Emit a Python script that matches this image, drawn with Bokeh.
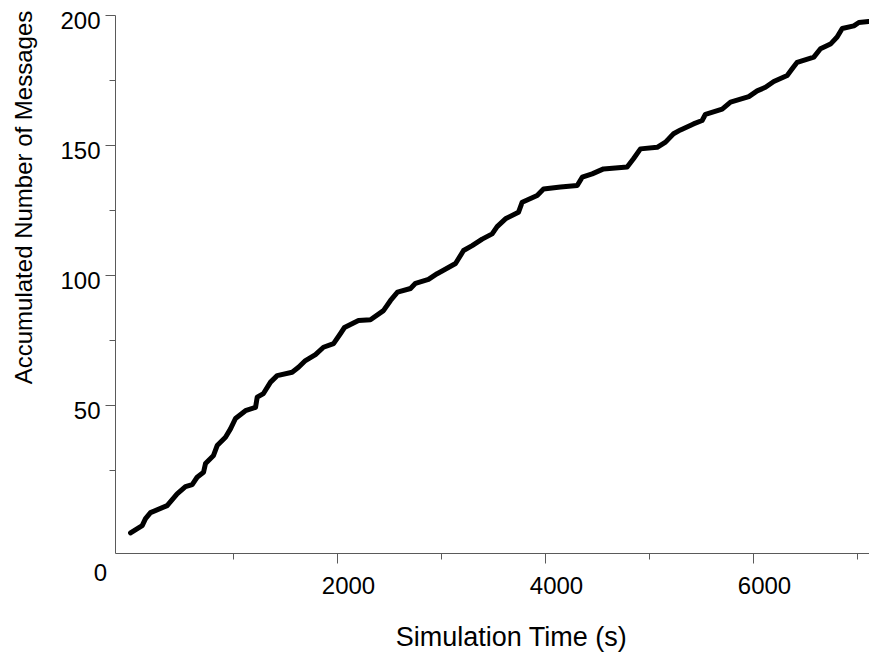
import math
from bokeh.plotting import figure
from bokeh.models import Range1d
from bokeh.core.properties import value
from bokeh.embed import file_html
from bokeh.resources import INLINE

# ---- data ----
time_s = [10, 122, 154, 202, 362, 458, 538, 603, 650, 712, 731, 808, 843, 923,
          971, 1019, 1115, 1212, 1228, 1288, 1356, 1420, 1564, 1625, 1692, 1788,
          1865, 1962, 2029, 2067, 2202, 2317, 2442, 2510, 2577, 2702, 2750, 2875,
          2958, 3019, 3135, 3212, 3295, 3391, 3487, 3535, 3615, 3740, 3776, 3920,
          3981, 4144, 4305, 4353, 4449, 4558, 4785, 4846, 4913, 5074, 5154, 5231,
          5298, 5423, 5506, 5538, 5699, 5779, 5955, 6035, 6115, 6195, 6324, 6372,
          6420, 6580, 6644, 6740, 6804, 6853, 6965, 7013, 7106]
messages = [1, 3.8, 6.5, 8.8, 11.5, 16, 18.8, 19.6, 22.4, 24.3, 27.7, 30.8, 34.6,
            37.8, 41, 45, 48, 49.3, 53.2, 54.6, 59, 61.5, 62.8, 64.7, 67.3, 69.6,
            72.4, 73.8, 77.7, 80, 82.7, 83, 86.5, 90.4, 93.6, 95, 97, 98.5, 100.7,
            102, 104.6, 109.6, 111.5, 114, 116, 118.8, 121.8, 124.3, 128.2, 130.8,
            133.3, 134, 134.6, 137.8, 139.1, 141, 141.7, 144.9, 148.7, 149.3, 151.3,
            154.5, 156, 158.3, 159.6, 162, 164, 166.7, 168.8, 171, 172.4, 174.6,
            176.9, 179.5, 182, 184, 187.2, 189, 191.7, 195, 196, 197.3, 197.7]

x_major = [2000, 4000, 6000]
x_minor = [1000, 3000, 5000, 7000]
y_major = [50, 100, 150, 200]
y_minor = [25, 75, 125, 175]
x_tick_labels = ["2000", "4000", "6000"]
y_tick_labels = ["50", "100", "150", "200"]
origin_label = "0"
x_title = "Simulation Time (s)"
y_title = "Accumulated Number of Messages"

# ---- layout (pixel geometry of the reference) ----
W, H = 869, 656
X_ORIGIN_PX, X_PX_PER_UNIT = 129.0, 0.104     # x=0 at px 129, 104 px per 1000 s
Y_ORIGIN_PX, Y_PX_PER_UNIT = 535.0, 2.6       # y=0 at px 535 (from top), 2.6 px per message


def dx(px):   # horizontal pixel distance -> data units
    return px / X_PX_PER_UNIT


def dy(px):   # vertical pixel distance -> data units
    return px / Y_PX_PER_UNIT


def xd(px):   # canvas x pixel -> data
    return (px - X_ORIGIN_PX) / X_PX_PER_UNIT


def yd(py):   # canvas y pixel (from top) -> data
    return (Y_ORIGIN_PX - py) / Y_PX_PER_UNIT


AX_X = xd(115)      # left axis position
AX_Y = yd(553)      # bottom axis position
AX_TOP = 200
AX_RIGHT = xd(W)

TICK_FONT = "Liberation Sans"
TITLE_FONT = "Liberation Sans"
AXIS_COLOR = "#5a5a5a"

p = figure(width=W, height=H, x_range=Range1d(xd(0), xd(W)), y_range=Range1d(yd(H), yd(0)),
           output_backend="svg", toolbar_location=None, min_border=0)
p.axis.visible = False
p.xgrid.grid_line_color = None
p.ygrid.grid_line_color = None
p.outline_line_color = None

# axis lines
p.segment(x0=[AX_X, AX_X], y0=[AX_Y, AX_Y], x1=[AX_X, AX_RIGHT], y1=[AX_TOP, AX_Y],
          line_color=AXIS_COLOR, line_width=1)
# y ticks (outward)
p.segment(x0=[AX_X] * len(y_major), y0=y_major, x1=[AX_X - dx(10)] * len(y_major), y1=y_major,
          line_color=AXIS_COLOR, line_width=1)
p.segment(x0=[AX_X] * len(y_minor), y0=y_minor, x1=[AX_X - dx(6)] * len(y_minor), y1=y_minor,
          line_color=AXIS_COLOR, line_width=1)
# x ticks (outward)
p.segment(x0=x_major, y0=[AX_Y] * len(x_major), x1=x_major, y1=[AX_Y - dy(10)] * len(x_major),
          line_color=AXIS_COLOR, line_width=1)
p.segment(x0=x_minor, y0=[AX_Y] * len(x_minor), x1=x_minor, y1=[AX_Y - dy(6)] * len(x_minor),
          line_color=AXIS_COLOR, line_width=1)

# the series
p.line(time_s, messages, line_color="black", line_width=5,
       line_join="round", line_cap="round")

# tick labels
p.text(x=[AX_X - dx(15)] * len(y_major), y=[v - dy(5) for v in y_major], text=y_tick_labels,
       text_align="right", text_baseline="middle", text_font=value(TICK_FONT),
       text_font_size="24px", text_color="black")
p.text(x=[v + dx(11) for v in x_major], y=[yd(585)] * len(x_major), text=x_tick_labels,
       text_align="center", text_baseline="middle", text_font=value(TICK_FONT),
       text_font_size="24px", text_color="black")
p.text(x=[xd(100)], y=[yd(572)], text=[origin_label],
       text_align="center", text_baseline="middle", text_font=value(TICK_FONT),
       text_font_size="24px", text_color="black")

# axis titles
p.text(x=[xd(511)], y=[yd(636)], text=[x_title],
       text_align="center", text_baseline="middle", text_font=value(TITLE_FONT),
       text_font_size="27px", text_color="black")
p.text(x=[xd(23)], y=[yd(197)], text=[y_title], angle=math.pi / 2,
       text_align="center", text_baseline="middle", text_font=value(TITLE_FONT),
       text_font_size="24px", text_color="black")

open("out.html", "w").write(file_html(p, INLINE))
